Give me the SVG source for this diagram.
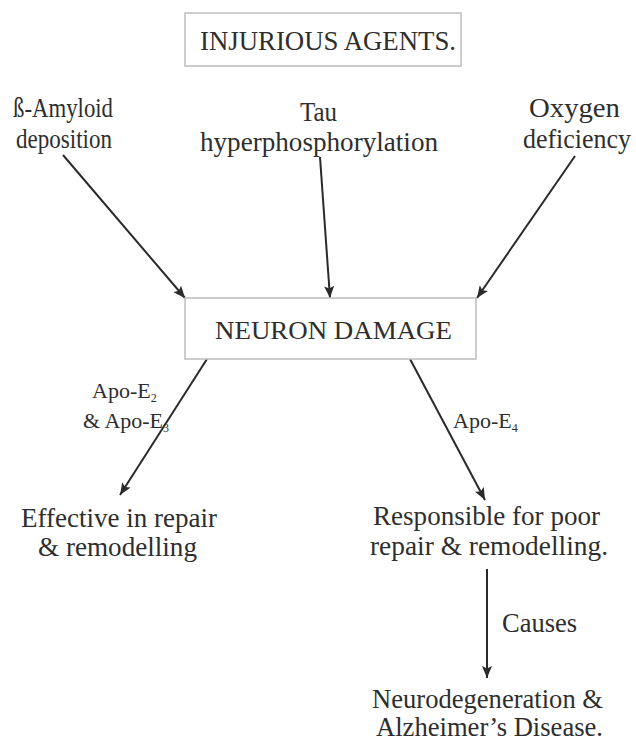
<svg xmlns="http://www.w3.org/2000/svg" width="636" height="743" viewBox="0 0 636 743">
<style>
text{font-family:"Liberation Serif","Times New Roman",Times,serif;fill:#2e2e2e}
.t{font-size:26.5px}
.s{font-size:22px}
.sub{font-size:12px}
.box{fill:#fff;stroke:#bdbdbd;stroke-width:1.5}
.ln{stroke:#2a2a2a;stroke-width:2;fill:none;marker-end:url(#ah)}
</style>
<defs>
<marker id="ah" viewBox="0 0 12 10" refX="12" refY="5" markerWidth="12" markerHeight="10" markerUnits="userSpaceOnUse" orient="auto">
<path d="M0,0 L12,5 L0,10 L2.5,5 Z" fill="#2a2a2a"/>
</marker>
</defs>
<rect width="636" height="743" fill="#fff"/>
<g id="connectors">
<line class="ln" x1="63" y1="155" x2="185" y2="298"/>
<line class="ln" x1="320" y1="157" x2="330" y2="298"/>
<line class="ln" x1="575" y1="156" x2="477" y2="298"/>
<line class="ln" x1="207" y1="359" x2="120" y2="495"/>
<line class="ln" x1="410" y1="359" x2="485" y2="500"/>
<line class="ln" x1="487" y1="569" x2="487" y2="678"/>
</g>
<g id="injurious-agents">
<rect class="box" x="185" y="13" width="276" height="53"/>
<text x="200" y="50" style="font-size:27px" textLength="256" lengthAdjust="spacingAndGlyphs">INJURIOUS AGENTS.</text>
</g>
<g id="amyloid">
<text class="t" x="13" y="117" textLength="100" lengthAdjust="spacingAndGlyphs">ß-Amyloid</text>
<text class="t" x="16" y="148" textLength="96" lengthAdjust="spacingAndGlyphs">deposition</text>
</g>
<g id="tau">
<text class="t" x="300" y="121" textLength="37" lengthAdjust="spacingAndGlyphs">Tau</text>
<text class="t" x="200" y="151" textLength="238" lengthAdjust="spacingAndGlyphs">hyperphosphorylation</text>
</g>
<g id="oxygen">
<text class="t" x="529" y="117" textLength="91" lengthAdjust="spacingAndGlyphs">Oxygen</text>
<text class="t" x="523" y="148" textLength="108" lengthAdjust="spacingAndGlyphs">deficiency</text>
</g>
<g id="neuron-damage">
<rect class="box" x="185" y="298" width="291" height="61"/>
<text x="215" y="339" style="font-size:26px" textLength="237" lengthAdjust="spacingAndGlyphs">NEURON DAMAGE</text>
</g>
<g id="label-apoe23">
<text class="s" x="92" y="398">Apo-E<tspan class="sub" dy="4">2</tspan></text>
<text class="s" x="83" y="428">&amp; Apo-E<tspan class="sub" dy="4">3</tspan></text>
</g>
<g id="label-apoe4">
<text class="s" x="453" y="428">Apo-E<tspan class="sub" dy="4">4</tspan></text>
</g>
<g id="effective">
<text class="t" x="21" y="527" textLength="196" lengthAdjust="spacingAndGlyphs">Effective in repair</text>
<text class="t" x="38" y="556" textLength="159" lengthAdjust="spacingAndGlyphs">&amp; remodelling</text>
</g>
<g id="responsible">
<text class="t" x="373" y="525" textLength="227" lengthAdjust="spacingAndGlyphs">Responsible for poor</text>
<text class="t" x="370" y="555" textLength="238" lengthAdjust="spacingAndGlyphs">repair &amp; remodelling.</text>
</g>
<g id="label-causes">
<text class="t" x="502" y="632" textLength="75" lengthAdjust="spacingAndGlyphs">Causes</text>
</g>
<g id="neurodegeneration">
<text class="t" x="372" y="708" textLength="231" lengthAdjust="spacingAndGlyphs">Neurodegeneration &amp;</text>
<text class="t" x="376" y="736" textLength="227" lengthAdjust="spacingAndGlyphs">Alzheimer’s Disease.</text>
</g>
</svg>
